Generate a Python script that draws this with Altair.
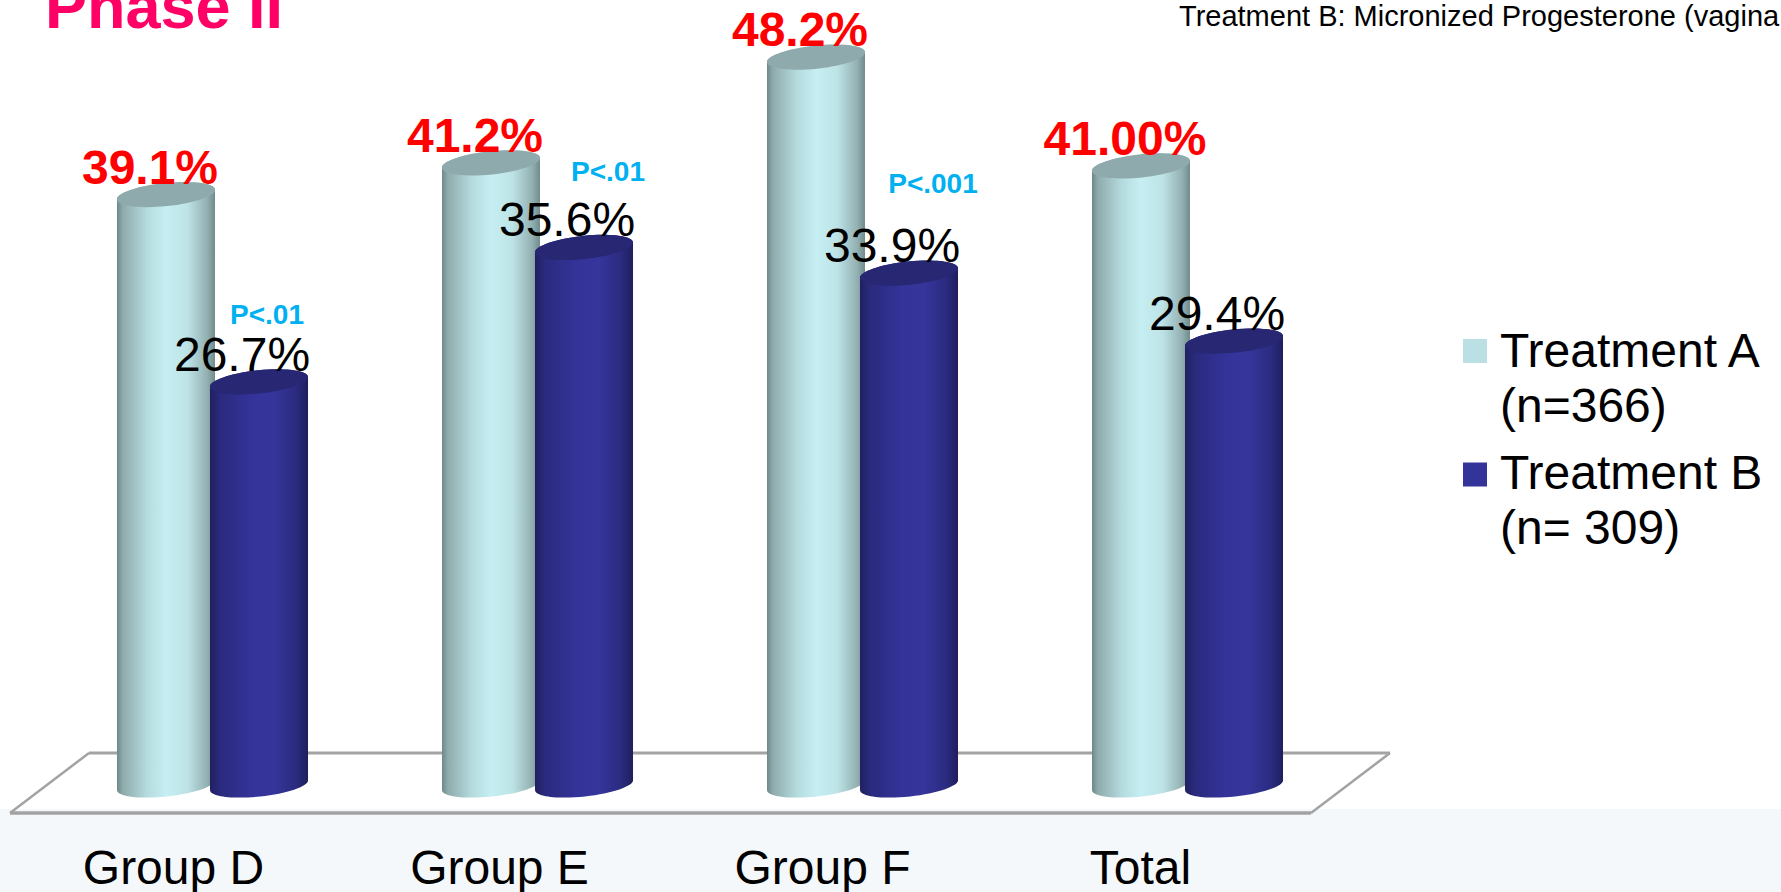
import altair as alt
import pandas as pd

groups = ["Group D", "Group E", "Group F", "Total"]
series = ["Treatment A", "Treatment B"]
values_a = [39.1, 41.2, 48.2, 41.0]
values_b = [26.7, 35.6, 33.9, 29.4]
labels_a = ["39.1%", "41.2%", "48.2%", "41.00%"]
labels_b = ["26.7%", "35.6%", "33.9%", "29.4%"]
p_groups = ["Group D", "Group E", "Group F"]
p_texts = ["P<.01", "P<.01", "P<.001"]
p_heights = [30.5, 40.0, 39.2]
legend_a = ["Treatment A", "(n=366)"]
legend_b = ["Treatment B", "(n= 309)"]

FONT = "Liberation Sans"
W, H = 1781, 892
BAR_W = 98


def sideways(stops):
    return alt.LinearGradient(
        gradient="linear",
        x1=0, x2=1, y1=0, y2=0,
        stops=[alt.GradientStop(offset=o, color=c) for o, c in stops],
    )


shade_a = sideways([(0, "#6c8888"), (0.06, "#8fabac"), (0.3, "#b4dadd"),
                    (0.5, "#c6eff3"), (0.72, "#bde3e6"), (0.92, "#93b0b2"), (1, "#6f8b8c")])
shade_b = sideways([(0, "#20205f"), (0.1, "#2a2a7e"), (0.42, "#333399"),
                    (0.65, "#35359b"), (0.88, "#2b2b80"), (1, "#1f1f5c")])
cap_a = "#8faaac"
cap_b = "#272773"

# Tilted ellipse in unit coordinates, used for the cylinder ends
ARC = "A1,0.235,-6,1,{s},{x},{y}"
LEFT, RIGHT = "-1,0.105", "1,-0.105"
ELLIPSE = f"M{LEFT} " + ARC.format(s=1, x=1, y=-0.105) + " " + ARC.format(s=1, x=-1, y=0.105) + " Z"
# Lower half of the ellipse closed upwards: the rounded foot of a cylinder
FOOT = f"M{LEFT} " + ARC.format(s=0, x=1, y=-0.105) + " L1,-0.25 L-1,-0.25 Z"
# Upper half closed downwards: fills the side wall right under the cap
SHOULDER = f"M{LEFT} " + ARC.format(s=1, x=1, y=-0.105) + " L1,0.25 L-1,0.25 Z"

rows = []
for i, g in enumerate(groups):
    rows.append(dict(group=g, series=series[0], value=values_a[i], base=0, label=labels_a[i]))
    rows.append(dict(group=g, series=series[1], value=values_b[i], base=0, label=labels_b[i]))
table = pd.DataFrame(rows)

x_enc = alt.X("group:N", sort=groups, axis=None,
              scale=alt.Scale(domain=groups, range=[50, 1350], paddingInner=0, paddingOuter=0))
off_enc = alt.XOffset("series:N", sort=series,
                      scale=alt.Scale(domain=series, paddingInner=0, paddingOuter=0.747))
y_scale = alt.Scale(domain=[0, 50], range=[785, 30])
y_val = alt.Y("value:Q", scale=y_scale, axis=None, stack=None)
y_base = alt.Y("base:Q", scale=y_scale, axis=None, stack=None)


def cylinder(name, shade, cap):
    part = alt.Chart(table[table.series == name])
    end = dict(size=BAR_W ** 2, filled=True, opacity=1, strokeWidth=0)
    foot = part.mark_point(shape=FOOT, fill=shade, **end).encode(x=x_enc, xOffset=off_enc, y=y_base)
    body = part.mark_bar(width=BAR_W, fill=shade, strokeWidth=0,
                         cornerRadiusTopLeft=6, cornerRadiusBottomRight=6).encode(
        x=x_enc, xOffset=off_enc, y=y_val)
    shoulder = part.mark_point(shape=SHOULDER, fill=shade, **end).encode(x=x_enc, xOffset=off_enc, y=y_val)
    top = part.mark_point(shape=ELLIPSE, fill=cap, **end).encode(x=x_enc, xOffset=off_enc, y=y_val)
    return foot + body + shoulder + top


blank = alt.Chart(pd.DataFrame({"k": [0]}))


def edge(x1, y1, x2, y2, width):
    return blank.mark_rule(color="#a3a3a3", strokeWidth=width).encode(
        x=alt.value(x1), x2=alt.value(x2), y=alt.value(y1), y2=alt.value(y2))


band = blank.mark_rect(color="#f5f8fb").encode(
    x=alt.value(0), x2=alt.value(W), y=alt.value(809), y2=alt.value(H))
floor = alt.layer(
    edge(10, 813, 1311, 813, 3.5),
    edge(89, 753, 1390, 753, 3),
    edge(10, 813, 89, 753, 2.5),
    edge(1311, 813, 1390, 753, 2.5),
)

value_a = alt.Chart(table[table.series == series[0]]).mark_text(
    font=FONT, fontSize=48, fontWeight="bold", color="#ff0000", dx=-16, dy=-11,
    baseline="alphabetic", align="center"
).encode(x=x_enc, xOffset=off_enc, y=y_val, text="label:N")
value_b = alt.Chart(table[table.series == series[1]]).mark_text(
    font=FONT, fontSize=48, color="#000000", dx=-17, dy=-11,
    baseline="alphabetic", align="center"
).encode(x=x_enc, xOffset=off_enc, y=y_val, text="label:N")

p_table = pd.DataFrame({"group": p_groups, "series": series[1], "value": p_heights, "label": p_texts})
p_layers = [
    alt.Chart(p_table[p_table.group == g]).mark_text(
        font=FONT, fontSize=28, fontWeight="bold", color="#00b0f0", dx=shift,
        baseline="alphabetic", align="center"
    ).encode(x=x_enc, xOffset=off_enc, y=y_val, text="label:N")
    for g, shift in zip(p_groups, [8, 24, 24])
]

group_layers = [
    alt.Chart(pd.DataFrame({"group": [g]})).mark_text(
        font=FONT, fontSize=48, color="#000000", dx=shift, baseline="alphabetic", align="center"
    ).encode(x=x_enc, y=alt.value(884), text="group:N")
    for g, shift in zip(groups, [-39, -38, -40, -47])
]


def note(text, x, y, size, color="#000000", weight="normal"):
    return alt.Chart(pd.DataFrame({"t": [text]})).mark_text(
        font=FONT, fontSize=size, color=color, fontWeight=weight,
        align="left", baseline="alphabetic"
    ).encode(x=alt.value(x), y=alt.value(y), text="t:N")


def swatch(y, color):
    return blank.mark_square(size=576, color=color, opacity=1).encode(
        x=alt.value(1475), y=alt.value(y))


chart = alt.layer(
    band, floor,
    cylinder(series[0], shade_a, cap_a),
    cylinder(series[1], shade_b, cap_b),
    value_a, value_b,
    *p_layers, *group_layers,
    note("Phase II", 45, 28, 63, "#ff0066", "bold"),
    note("Treatment B: Micronized Progesterone (vagina", 1179, 26, 29),
    swatch(351, "#bbe0e3"),
    swatch(474.5, "#333399"),
    note(legend_a[0], 1500, 367, 48),
    note(legend_a[1], 1500, 422, 48),
    note(legend_b[0], 1500, 489, 48),
    note(legend_b[1], 1500, 544, 48),
).properties(
    width=W, height=H, padding=0, background="#ffffff",
    autosize=alt.AutoSizeParams(type="none"),
).configure_view(stroke=None)

chart.save("out.html", embed_options={"renderer": "svg", "actions": False})
